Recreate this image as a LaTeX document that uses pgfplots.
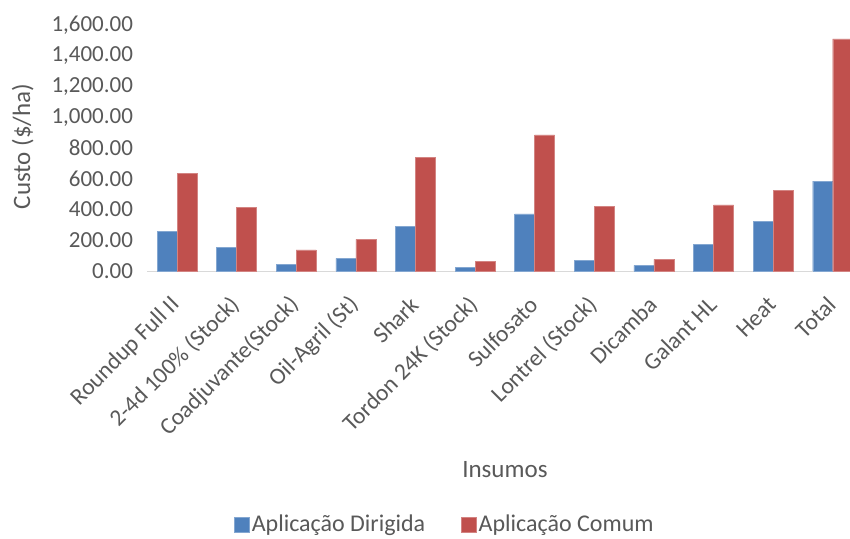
\documentclass[border=0pt]{standalone}
\usepackage{pgfplots}
\pgfplotsset{compat=1.18}
\usepackage{fontspec}
\setmainfont{Carlito}
\definecolor{cblue}{HTML}{4F81BD}
\definecolor{cred}{HTML}{C0504D}
\definecolor{txt}{HTML}{595959}
\begin{document}
\begin{tikzpicture}
\path[use as bounding box] (0,0) rectangle (850pt,538pt);
\begin{axis}[
  at={(147.2pt,267pt)}, anchor=south west,
  scale only axis, width=702.8pt, height=246pt,
  ybar=0pt, bar width=20pt,
  xmin=-0.5, xmax=11.29, ymin=0, ymax=1600,
  ytick={0,200,...,1600},
  xtick={0,...,11},
  xticklabels={Roundup Full II,2-4d 100\% (Stock),Coadjuvante(Stock),Oil-Agril (St),Shark,Tordon 24K (Stock),Sulfosato,Lontrel (Stock),Dicamba,Galant HL,Heat,Total},
  major tick length=0pt,
  axis x line*=bottom, axis y line*=left,
  axis line style={-},
  x axis line style={draw=black!15, line width=1pt},
  y axis line style={draw=none},
  /pgf/number format/assume math mode=true,
  yticklabel={\pgfmathprintnumber[fixed,fixed zerofill,precision=2,1000 sep={,}]{\tick}},
  yticklabel style={font=\fontsize{23}{26}\selectfont, text=txt, inner sep=0pt, xshift=-14pt},
  xticklabel style={font=\fontsize{23.5}{26}\selectfont, text=txt, inner sep=0pt, xshift=-1pt, yshift=-30pt, rotate=45, anchor=east},
  ylabel={Custo (\$/ha)},
  ylabel style={font=\fontsize{25}{28}\selectfont, text=txt, at={(axis description cs:-0.177,0.506)}, anchor=center, rotate=0},
  xlabel={Insumos},
  xlabel style={font=\fontsize{25}{28}\selectfont, text=txt, at={(axis description cs:0.509,-0.809)}, anchor=center},
  legend style={at={(axis description cs:0.4237,-1.03)}, anchor=center, draw=none, font=\fontsize{24}{27}\selectfont, text=txt, legend columns=2, /tikz/every even column/.append style={column sep=34pt}},
  legend image code/.code={\fill[#1] (0pt,-7.5pt) rectangle (15pt,7.5pt);},
]
\addplot[fill=cblue, draw=cblue!70!white] coordinates {(0,260) (1,154) (2,45) (3,82) (4,290) (5,26) (6,372) (7,68) (8,36) (9,172) (10,324) (11,584)};
\addplot[fill=cred, draw=cred!70!white] coordinates {(0,635) (1,412) (2,137) (3,206) (4,737) (5,65) (6,885) (7,419) (8,75) (9,430) (10,523) (11,1509)};
\legend{Aplicação Dirigida,Aplicação Comum}
\end{axis}
\end{tikzpicture}
\end{document}
